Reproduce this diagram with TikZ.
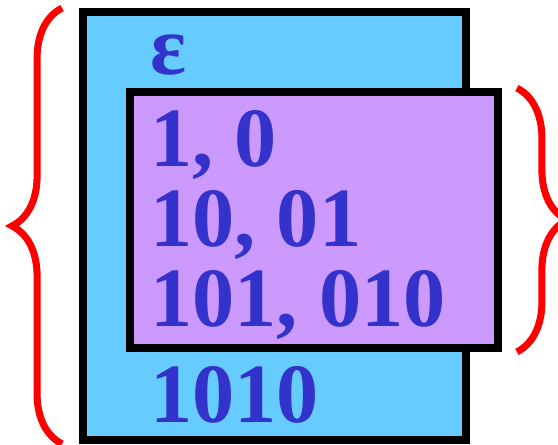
\documentclass[tikz,border=0pt]{standalone}
\usepackage{fontspec}
\setmainfont{Liberation Serif}
\usetikzlibrary{positioning,decorations.pathreplacing}
\definecolor{SetBlue}{HTML}{66CCFF}
\definecolor{SetPurple}{HTML}{CC99FF}
\definecolor{WordBlue}{HTML}{3333CC}
\definecolor{BraceRed}{HTML}{FF0000}
\tikzset{
  setbox/.style={draw=black, line width=4.5pt, inner sep=0pt},
  bluebox/.style={setbox, fill=SetBlue},
  purplebox/.style={setbox, fill=SetPurple},
  word/.style={anchor=base west, inner sep=0pt, text=WordBlue, font=\fontsize{48}{48}\selectfont\bfseries},
  brc/.style={decorate, decoration={brace, amplitude=1cm}, draw=BraceRed, line width=4pt}
}

\begin{document}
\begin{tikzpicture}[x=0.02cm, y=-0.02cm]
\useasboundingbox (0,0) rectangle (558,445);
\node[bluebox, minimum width=7.66cm, minimum height=8.56cm] (outer) at (274.5,226) {};
\node[purplebox, minimum width=7.36cm, minimum height=5.12cm] (inner) at (314,220) {};
\node[word] (eps) at (150,75) {ε};
\node[word] (w1) at (150,167) {1, 0};
\node[word] (w2) at (150,247) {10, 01};
\node[word] (w3) at (150,327) {101, 010};
\node[word] (w4) at (150,423) {1010};
% braces
\draw[brc] ([xshift=-0.34cm]outer.south west) -- ([xshift=-0.34cm]outer.north west);
\draw[brc] ([xshift=0.3cm]inner.north east) -- ([xshift=0.3cm]inner.south east);
\end{tikzpicture}
\end{document}
